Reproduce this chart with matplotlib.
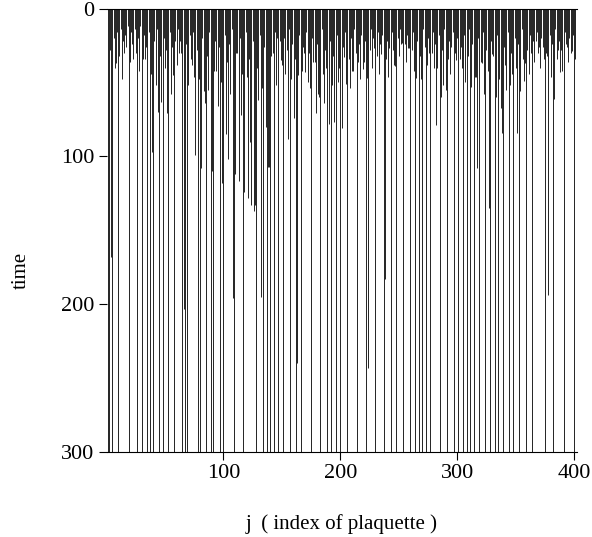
import numpy as np
import matplotlib
matplotlib.use('Agg')
import matplotlib.pyplot as plt

plt.rcParams['font.family'] = ['Liberation Serif', 'DejaVu Serif']

# time at which the line of plaquette j ends (300 = still alive at the end)
end_time = [
    300, 300, 28, 168, 300, 20, 40, 37, 16, 300,
    32, 14, 48, 22, 30, 18, 26, 12, 300, 36,
    16, 24, 34, 14, 30, 300, 20, 42, 12, 300,
    34, 18, 34, 26, 300, 16, 300, 44, 97, 300,
    22, 52, 14, 70, 300, 32, 63, 300, 20, 40,
    28, 71, 300, 16, 58, 26, 45, 300, 22, 38,
    14, 30, 22, 30, 300, 203, 300, 24, 300, 52,
    18, 34, 38, 16, 46, 99, 28, 300, 48, 300,
    108, 20, 56, 64, 300, 32, 55, 16, 300, 110,
    300, 42, 22, 42, 66, 26, 300, 50, 118, 300,
    18, 85, 36, 102, 24, 58, 14, 196, 300, 112,
    30, 30, 117, 20, 72, 44, 300, 124, 16, 46,
    128, 34, 90, 133, 22, 137, 133, 300, 40, 62,
    18, 195, 54, 300, 26, 80, 300, 107, 107, 300,
    32, 30, 300, 16, 52, 20, 300, 22, 35, 38,
    300, 20, 44, 28, 88, 14, 300, 48, 24, 74,
    34, 300, 240, 45, 18, 300, 42, 26, 30, 43,
    16, 50, 30, 54, 300, 20, 36, 36, 71, 24,
    58, 60, 300, 14, 44, 64, 28, 40, 300, 78,
    22, 300, 52, 32, 77, 300, 18, 50, 40, 300,
    81, 26, 33, 16, 51, 300, 34, 54, 20, 42,
    42, 14, 30, 300, 36, 24, 48, 18, 41, 36,
    22, 300, 47, 243, 28, 14, 40, 20, 27, 300,
    32, 16, 44, 24, 31, 18, 300, 183, 34, 22,
    46, 27, 300, 16, 28, 38, 39, 300, 20, 32,
    14, 24, 23, 300, 24, 36, 18, 27, 27, 300,
    28, 16, 42, 300, 47, 22, 300, 32, 48, 300,
    14, 26, 300, 38, 20, 30, 300, 30, 16, 40,
    24, 79, 40, 18, 300, 60, 28, 52, 14, 55,
    300, 34, 22, 44, 26, 16, 300, 30, 35, 20,
    300, 34, 26, 40, 300, 18, 50, 300, 32, 14,
    300, 53, 24, 300, 46, 46, 108, 20, 300, 36,
    37, 16, 58, 300, 28, 42, 135, 300, 22, 31,
    32, 300, 60, 18, 300, 48, 67, 84, 300, 26,
    38, 55, 16, 300, 52, 30, 44, 300, 20, 40,
    84, 24, 300, 56, 14, 34, 49, 37, 300, 28,
    44, 18, 30, 300, 22, 36, 22, 16, 30, 26,
    40, 20, 26, 34, 300, 30, 32, 194, 18, 46,
    24, 300, 61, 14, 34, 28, 22, 43, 28, 42,
    300, 16, 24, 26, 36, 20, 30, 29, 18, 300,
    34, 24,
]
j = np.arange(1, len(end_time) + 1)

x_ticks = [100, 200, 300, 400]
y_ticks = [0, 100, 200, 300]

fig = plt.figure(figsize=(5.92, 5.37), dpi=100)
ax = fig.add_axes([106.5 / 592, 1 - 452 / 537, 470 / 592, 443.5 / 537])

ax.vlines(j, 0, end_time, color='black', linewidth=0.6)

ax.set_xlim(0, 402)
ax.set_ylim(300, 0)
ax.set_xticks(x_ticks)
ax.set_yticks(y_ticks)
ax.tick_params(direction='out', length=6, width=0.8, labelsize=16, pad=3)

ax.spines['right'].set_visible(False)
ax.spines['left'].set_visible(False)
ax.spines['top'].set_linewidth(0.8)
ax.spines['bottom'].set_linewidth(0.8)

ax.set_xlabel('j  ( index of plaquette )', fontsize=15, labelpad=22)
ax.set_ylabel('time', fontsize=15)
ax.yaxis.set_label_coords(-0.162, 0.41)

fig.savefig('out.png', dpi=100)
